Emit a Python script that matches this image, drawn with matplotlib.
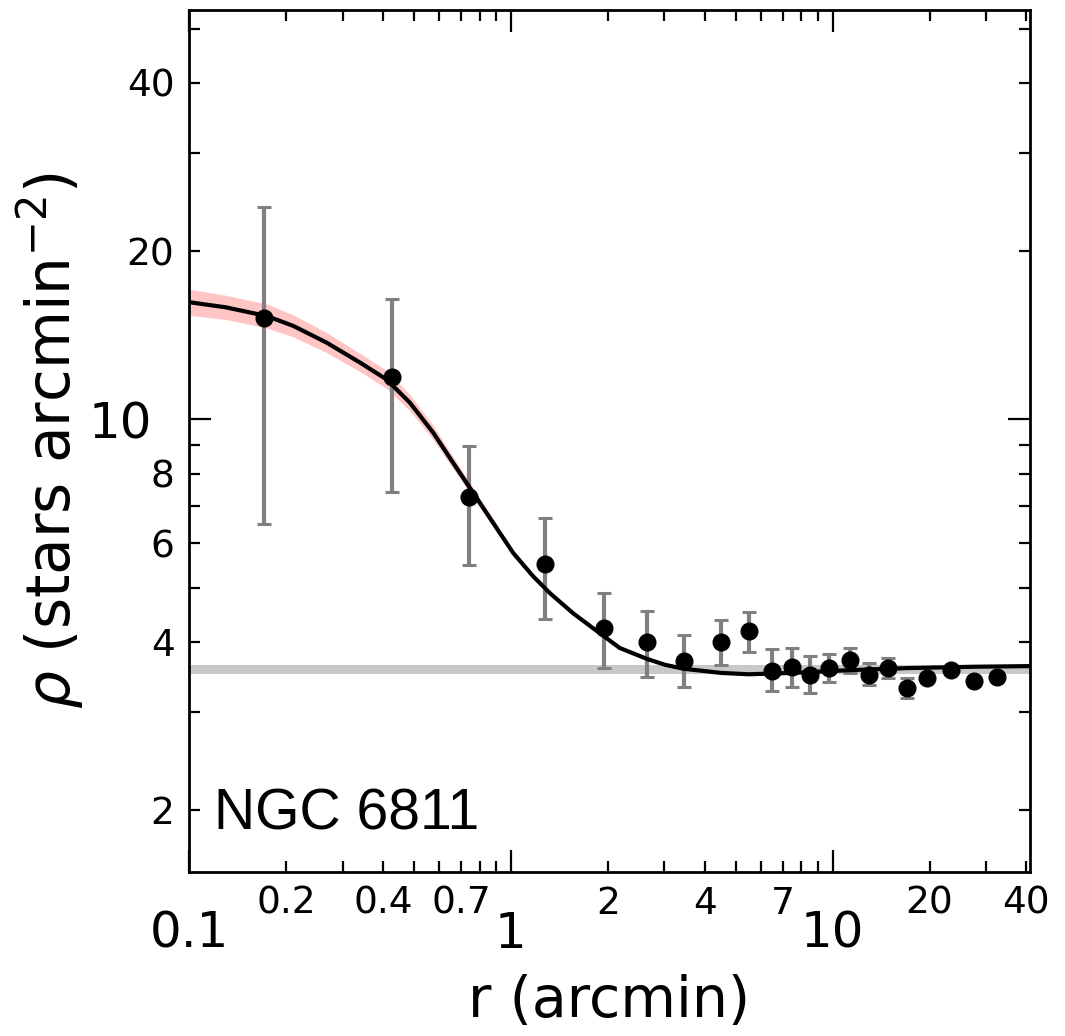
import numpy as np
import matplotlib
matplotlib.use("Agg")
import matplotlib.pyplot as plt

# radial density profile
r_pts = [0.171, 0.427, 0.741, 1.275, 1.945, 2.645, 3.45, 4.49, 5.48, 6.47,
         7.46, 8.48, 9.72, 11.3, 13.0, 14.9, 17.0, 19.7, 23.3, 27.4, 32.3]
rho_pts = [15.2, 11.9, 7.25, 5.52, 4.24, 4.00, 3.70, 4.00, 4.19, 3.55,
           3.61, 3.49, 3.59, 3.71, 3.49, 3.59, 3.31, 3.45, 3.56, 3.40, 3.46]
err_hi = [24.0, 16.4, 8.98, 6.65, 4.90, 4.55, 4.12, 4.38, 4.53, 3.89,
          3.90, 3.78, 3.81, 3.90, 3.67, 3.75, 3.45, 3.45, 3.56, 3.40, 3.46]
err_lo = [6.51, 7.43, 5.50, 4.40, 3.59, 3.46, 3.32, 3.64, 3.84, 3.27,
          3.32, 3.24, 3.39, 3.52, 3.35, 3.45, 3.18, 3.45, 3.56, 3.40, 3.46]

# fitted King profile, sampled along the drawn curve
r_fit = [0.1, 0.130, 0.1743, 0.2108, 0.2677, 0.3397, 0.4111, 0.4858, 0.5737,
         0.6619, 0.7638, 0.8811, 1.0166, 1.173, 1.322, 1.561, 1.802, 2.180,
         2.645, 3.01, 3.45, 4.49, 5.48, 7.51, 11.3, 17.0, 27.2, 40.9]
rho_fit = [16.21, 15.87, 15.31, 14.70, 13.72, 12.64, 11.79, 10.71, 9.47,
           8.36, 7.39, 6.53, 5.77, 5.24, 4.89, 4.50, 4.23, 3.90,
           3.73, 3.64, 3.58, 3.52, 3.50, 3.52, 3.56, 3.59, 3.61, 3.62]
# uncertainty band of the fit (only visible in the core)
r_band = r_fit[:18]
band_lo = [15.36, 15.10, 14.57, 14.05, 13.17, 12.18, 11.36, 10.36, 9.20,
           8.16, 7.24, 6.42, 5.70, 5.20, 4.85, 4.48, 4.21, 3.89]
band_hi = [17.10, 16.68, 16.09, 15.38, 14.30, 13.12, 12.24, 11.07, 9.75,
           8.57, 7.54, 6.64, 5.84, 5.28, 4.93, 4.52, 4.25, 3.91]

background = 3.58

x_major = [0.1, 1, 10]
x_minor = [0.2, 0.3, 0.4, 0.5, 0.6, 0.7, 0.8, 0.9,
           2, 3, 4, 5, 6, 7, 8, 9, 20, 30, 40]
x_minor_lab = ["0.2", "", "0.4", "", "", "0.7", "", "",
               "2", "", "4", "", "", "7", "", "", "20", "", "40"]
y_major = [10]
y_minor = [2, 3, 4, 5, 6, 7, 8, 9, 20, 30, 40, 50]
y_minor_lab = ["2", "", "4", "", "6", "", "8", "", "20", "", "40", ""]

fig = plt.figure(figsize=(10.65, 10.36), dpi=100)
ax = fig.add_axes([0.1775, 0.1583, 0.7892, 0.8320])

ax.fill_between(r_band, band_lo, band_hi, color="#ffc4c4", lw=0, zorder=1)
ax.axhline(background, color="#c8c8c8", lw=6.5, zorder=1.5)

yerr = [np.array(rho_pts) - np.array(err_lo), np.array(err_hi) - np.array(rho_pts)]
ax.errorbar(r_pts, rho_pts, yerr=yerr, fmt="none", ecolor="#808080",
            elinewidth=3, capsize=5, capthick=2.2, zorder=2)
ax.plot(r_fit, rho_fit, color="black", lw=3.0, zorder=3,
        solid_joinstyle="round")
ax.plot(r_pts, rho_pts, "o", color="black", ms=12, zorder=4)

ax.set_xscale("log")
ax.set_yscale("log")
ax.set_xlim(0.1, 40.9)
ax.set_ylim(1.55, 54)

ax.set_xticks(x_major)
ax.set_xticklabels(["0.1", "1", "10"])
ax.set_xticks(x_minor, minor=True)
ax.set_xticklabels(x_minor_lab, minor=True)
ax.set_yticks(y_major)
ax.set_yticklabels(["10"])
ax.set_yticks(y_minor, minor=True)
ax.set_yticklabels(y_minor_lab, minor=True)

ax.tick_params(which="both", direction="in", top=True, right=True, width=1.6)
ax.tick_params(which="major", length=16, labelsize=36)
ax.tick_params(which="minor", length=8, labelsize=27)
ax.tick_params(axis="x", which="major", pad=27)
ax.tick_params(axis="x", which="minor", pad=10)
ax.tick_params(axis="y", which="major", pad=26.5)
ax.tick_params(axis="y", which="minor", pad=10.5)
for s in ax.spines.values():
    s.set_linewidth(2)

ax.set_xlabel("r (arcmin)", fontsize=41, labelpad=12)
ax.set_ylabel(r"$\rho$ (stars arcmin$^{-2}$)", fontsize=43, labelpad=2)

ax.text(0.03, 0.035, "NGC 6811", transform=ax.transAxes, fontsize=41,
        family="Liberation Sans", ha="left", va="bottom")

fig.savefig("out.png", dpi=100)
